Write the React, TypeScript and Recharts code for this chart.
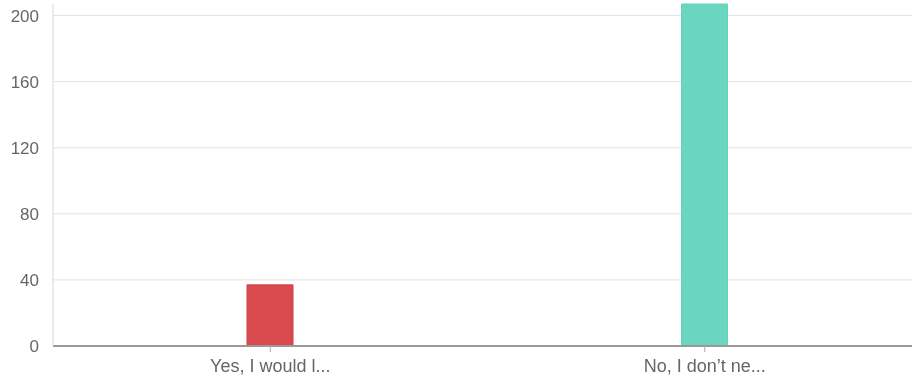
import React from 'react';
import { BarChart, Bar, XAxis, YAxis, CartesianGrid, Cell } from 'recharts';

const categories = ['Yes, I would l...', 'No, I don\u2019t ne...'];
const responses = [37, 207];
const barColors = ['#d94a4f', '#6bd6bf'];
const borderColors = ['#d63d42', '#62d3ba'];
const yTicks = [0, 40, 80, 120, 160, 200];

const data = categories.map((name, i) => ({ name, value: responses[i] }));

const font = '"Liberation Sans", Arial, sans-serif';

const App = () => (
    <div style={{ position: 'fixed', left: 0, top: 0, width: 912, height: 379, overflow: 'hidden' }}>
        <BarChart
            width={922}
            height={379}
            data={data}
            margin={{ top: 4, right: 0, bottom: 0, left: 0 }}
            barCategoryGap={0}
        >
            <CartesianGrid vertical={false} horizontalValues={yTicks} stroke="#e2e2e2" />
            <XAxis
                dataKey="name"
                height={33}
                tickSize={6}
                tickMargin={7}
                axisLine={{ stroke: '#999999', strokeWidth: 2 }}
                tickLine={{ stroke: '#aaaaaa' }}
                tick={{ fill: '#666666', fontSize: 18, fontFamily: font }}
                interval={0}
            />
            <YAxis
                domain={[0, 207]}
                ticks={yTicks}
                width={53}
                tickSize={6}
                tickMargin={8}
                tickLine={false}
                axisLine={{ stroke: '#d8d8d8' }}
                tick={{ fill: '#666666', fontSize: 17, fontFamily: font }}
            />
            <Bar dataKey="value" barSize={46} strokeWidth={1} isAnimationActive={false}>
                {data.map((d, i) => (
                    <Cell key={d.name} fill={barColors[i]} stroke={borderColors[i]} />
                ))}
            </Bar>
        </BarChart>
    </div>
);

export default App;
